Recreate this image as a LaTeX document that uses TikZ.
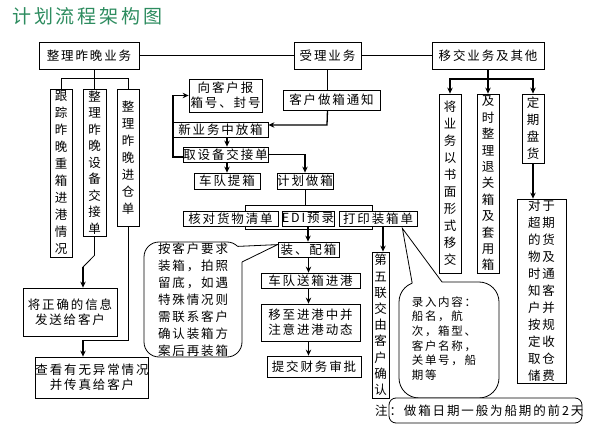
\documentclass[tikz,border=0pt]{standalone}
\usepackage{fontspec}
\newfontfamily\cjk[LetterSpace=15]{Noto Sans CJK SC}
\usetikzlibrary{arrows.meta,calc}
\newcommand\myfz{\fontsize{12.5}{15}\selectfont}
\newcommand\myvz{\fontsize{12.5}{17}\selectfont}
\definecolor{titlegreen}{RGB}{45,140,95}
\begin{document}
\begin{tikzpicture}[x=1pt,y=-1pt,
 box/.style={draw, line width=0.8pt, fill=white, inner sep=0pt, align=center, font=\myfz\cjk},
 vbox/.style={box, font=\myvz\cjk},
 ln/.style={line width=0.8pt},
 arr/.style={line width=1.3pt, -{Stealth[length=6pt,width=5.5pt]}},
 bub/.style={draw, line width=0.8pt, fill=white, rounded corners=15pt, inner sep=0pt}
]
\fill[white] (0,0) rectangle (598,441);
\useasboundingbox (0,0) rectangle (598,441);

\node[font=\fontsize{19}{19}\selectfont\cjk, text=titlegreen, inner sep=0pt, anchor=west] (title) at (12,16) {计划流程架构图};

% top row
\node[box, minimum width=100, minimum height=27] (top1) at (89,55.5) {整理昨晚业务};
\node[box, minimum width=67, minimum height=27] (top2) at (327.5,55.5) {受理业务};
\node[box, minimum width=112, minimum height=27] (top3) at (488,55.5) {移交业务及其他};
\draw[ln] (top1.east) -- (top2.west);
\draw[ln] (top2.east) -- (top3.west);

% left column
\node[vbox, minimum width=22, minimum height=168] (L1) at (61,173) {跟\\踪\\昨\\晚\\重\\箱\\进\\港\\情\\况};
\node[vbox, font=\fontsize{12.5}{16.5}\selectfont\cjk, minimum width=23, minimum height=147] (L2) at (94.5,162.5) {整\\理\\昨\\晚\\设\\备\\交\\接\\单};
\node[vbox, minimum width=22, minimum height=137] (L3) at (128,157.5) {整\\理\\昨\\晚\\进\\仓\\单};
\node[box, minimum width=94, minimum height=48] (L4) at (70,312) {将正确的信息\\发送给客户};
\node[box, minimum width=106, minimum height=41] (L5) at (92,377.5) {查看有无异常情况\\并传真给客户};
\draw[ln] (top1.south -| L2.north) -- (L2.north);
\draw[ln] (L1.north) -- ++(0,-10) -| (L3.north);
\coordinate (k1) at (83,267);
\draw[ln] (L2.south) -- ++(0,19) -- (k1);
\draw[arr] (k1) -- (k1 |- L4.north);
\coordinate (k2) at (83,340);
\draw[ln] (L3.south) |- (k2);
\draw[arr] (k2) -- (k2 |- L5.north);

% middle column
\node[box, minimum width=97, minimum height=20] (M1) at (331.5,100) {客户做箱通知};
\node[box, minimum width=73, minimum height=33] (M2) at (225.5,95.5) {向客户报\\箱号、封号};
\node[box, minimum width=95, minimum height=15] (M3) at (220.5,129.5) {新业务中放箱};
\node[box, minimum width=85, minimum height=15] (M4) at (225.5,154.5) {取设备交接单};
\node[box, minimum width=66, minimum height=16] (M5) at (227,181) {车队提箱};
\node[box, minimum width=56, minimum height=16] (M6) at (305,181) {计划做箱};
\node[draw, line width=0.8pt, inner sep=0pt, minimum width=127, minimum height=24] (grp) at (308.5,217) {};
\node[box, minimum width=95, minimum height=15] (M7) at (230.5,218.5) {核对货物清单};
\node[box, minimum width=52, minimum height=15] (M8) at (308,218.5) {EDI预录};
\node[box, minimum width=78, minimum height=15] (M9) at (378,218.5) {打印装箱单};
\node[box, minimum width=61, minimum height=15] (M10) at (308.5,249.5) {装、配箱};
\node[box, minimum width=99, minimum height=15] (M11) at (310.5,280.5) {车队送箱进港};
\node[box, minimum width=99, minimum height=37] (M12) at (310.5,322.5) {移至进港中并\\注意进港动态};
\node[box, minimum width=94, minimum height=21] (M13) at (314,366.5) {提交财务审批};
\node[vbox, font=\fontsize{12.5}{16.2}\selectfont\cjk, minimum width=17, minimum height=146] (M14) at (380.5,325) {第\\五\\联\\交\\由\\客\\户\\确\\认};

\draw[ln] (top2.south) -- (top2.south |- M1.north);
\coordinate (k3) at (327,125);
\draw[arr] (top2.south |- M1.south) -- (k3) -- (k3 -| M3.east);
\coordinate (k4) at (173,157);
\draw[arr] (k4 -| M4.west) -- (k4) |- (M2.west);
\draw[arr] (M5.north |- M3.south) -- (M5.north |- M4.north);
\draw[arr] (M5.north |- M4.south) -- (M5.north);
\draw[arr] (M4.east) -| (M6.north);
\draw[ln] (M6.south) -- (M6.south |- grp.north);
\draw[arr] (M8.south) -- (M8.south |- M10.north);
\draw[arr] (M10.south) -- (M10.south |- M11.north);
\draw[arr] (M10.south |- M11.south) -- (M10.south |- M12.north);
\draw[arr] (M10.south |- M12.south) -- (M10.south |- M13.north);
\coordinate (k5) at (383,226);
\draw[arr] (k5) -- (k5 |- M14.north);

% right column
\node[vbox, minimum width=22, minimum height=179] (R1) at (450,183.5) {将\\业\\务\\以\\书\\面\\形\\式\\移\\交};
\node[vbox, font=\fontsize{12.5}{16.4}\selectfont\cjk, minimum width=22, minimum height=179] (R2) at (488,183.5) {及\\时\\整\\理\\退\\关\\箱\\及\\套\\用\\箱};
\node[vbox, minimum width=22, minimum height=69] (R3) at (533,128.5) {定\\期\\盘\\货};
\node[vbox, minimum width=49, minimum height=184] (R4) at (541.5,291) {对于\\超期\\的货\\物及\\时通\\知客\\户并\\按规\\定收\\取仓\\储费};
\draw[arr] (top3.south) -- (R2.north);
\coordinate (b) at (488,79);
\draw[arr] (b) -| (R1.north);
\draw[arr] (b) -| (R3.north);
\draw[arr] (R3.south) -- (R3.south |- R4.north);

% left callout
\node[bub, minimum width=98, minimum height=115, align=left, font=\myvz\cjk] (bubL) at (193,299.5) {按客户要求\\装箱，拍照\\留底，如遇\\特殊情况则\\需联系客户\\确认装箱方\\案后再装箱};
\coordinate (tipL) at ($(M10.north west)+(0,3)$);
\fill[white] (237.6,246.4) -- (tipL) -- (242,262) -- (238.5,262) -- (235,250) -- cycle;
\draw[ln] (237.6,246.4) -- (tipL) -- (242,262);

% right callout
\node[bub, rounded corners=20pt, minimum width=100, minimum height=116] (bubR) at (449,340) {};
\node[font=\fontsize{11.5}{14.7}\selectfont\cjk, align=left, inner sep=0pt] (bubRt) at (444,338.5) {录入内容：\\船名，航\\次，箱型、\\客户名称，\\关单号，船\\期等};
\coordinate (tipR) at ($(M9.south east)+(-15,2)$);
\fill[white] (412.2,283.2) -- (tipR) -- (442,282) -- (440,285.5) -- (414,286) -- cycle;
\draw[ln] (412.2,283.2) -- (tipR) -- (442,282);

% note
\node[bub, rounded corners=7pt, minimum width=193, minimum height=25] (note) at (485.5,410.5) {};
\node[font=\myfz\cjk, inner sep=0pt, anchor=west] (notet) at (375,410.5) {注：做箱日期一般为船期的前2天};
\end{tikzpicture}
\end{document}
